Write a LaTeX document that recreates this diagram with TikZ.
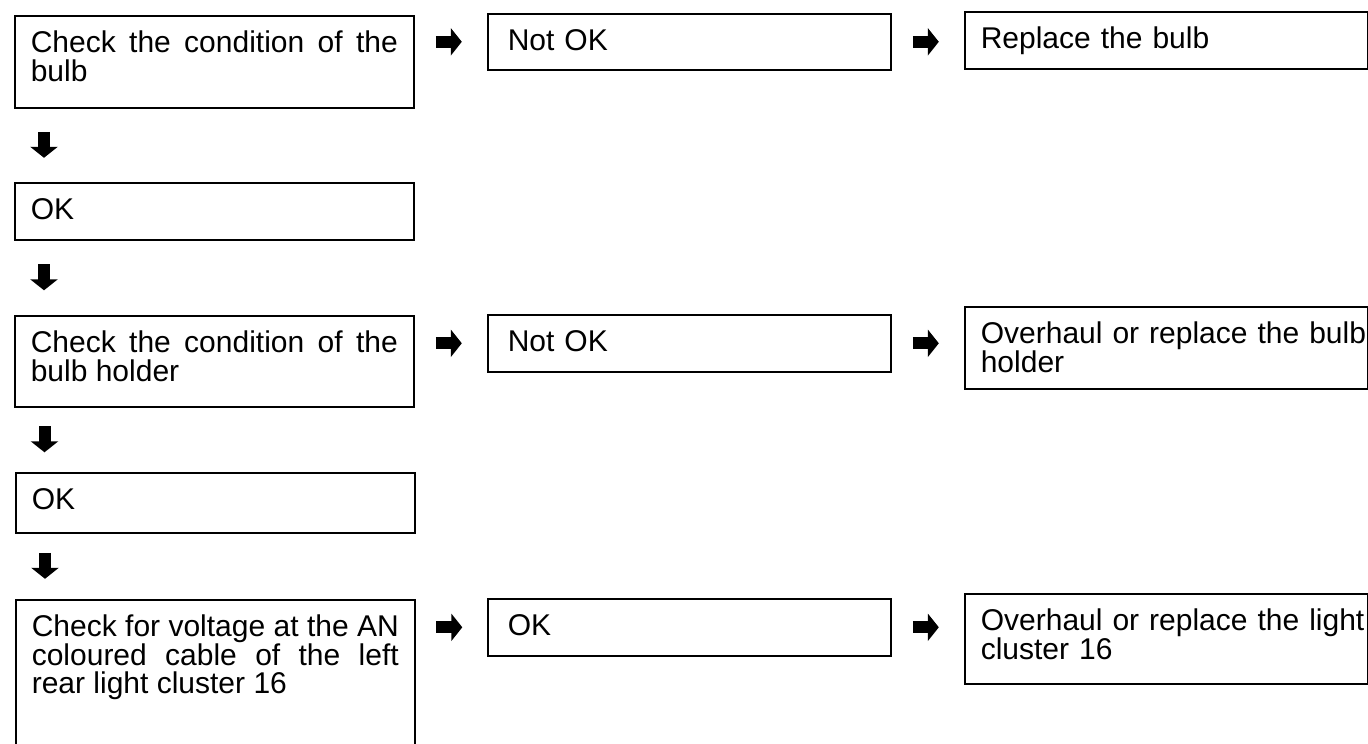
\documentclass[tikz,border=0pt]{standalone}
\usepackage{fontspec}
\setmainfont{Liberation Sans}
\usetikzlibrary{arrows.meta,calc}
\newcommand\boxfont{\fontsize{30}{28.5}\selectfont\tolerance=10000\hyphenpenalty=10000\hbadness=10000\hfuzz=20pt\relax}
\tikzset{
  bx/.style={draw, line width=1.6pt, anchor=north west, inner xsep=16pt, inner ysep=0pt,
    text height=37pt, font=\boxfont, align=justify},
  bxmid/.style={bx, inner xsep=20pt, align=left},
  bxright/.style={bx, align=left},
  barrow/.style={line width=12pt, -{Triangle[length=11pt,width=27pt]}},
}
\newcommand\harr[3]{%
  \path (#1.east |- #3.center) -- coordinate[midway] (m) (#2.west |- #3.center);
  \draw[barrow] ([xshift=-15pt]m) -- ([xshift=11pt]m);}
\newcommand\varr[2]{%
  \path ([xshift=30pt]#1.south west) -- coordinate[midway] (m) ([xshift=30pt]#2.north west);
  \draw[barrow] ([yshift=13.5pt]m) -- ([yshift=-12.5pt]m);}
\begin{document}
\begin{tikzpicture}[x=1pt,y=1pt]
\useasboundingbox (0,0) rectangle (1368,-744);
\clip (0,0) rectangle (1368,-744);
% row 1
\node[bx, text width=367pt, text depth=55pt] (A1) at (14,-15) {Check the condition of the\linebreak bulb};
\node[bxmid, text width=363pt, text depth=19pt] (B1) at (487,-13) {Not OK};
\node[bxright, text width=371pt, text depth=20pt] (C1) at (964,-11) {Replace the bulb};
% OK 1
\node[bx, text width=367pt, text depth=20pt] (OK1) at (14,-182) {OK};
% row 3
\node[bx, text width=367pt, text depth=54pt] (A3) at (14,-315) {Check the condition of the\linebreak bulb holder};
\node[bxmid, text width=363pt, text depth=20pt] (B3) at (487,-314) {Not OK};
\node[bxright, text width=371pt, text depth=45pt] (C3) at (964,-306) {\mbox{Overhaul or replace the bulb}\\holder};
% OK 2
\node[bx, text width=367pt, text depth=23pt] (OK2) at (15,-472) {OK};
% row 5
\node[bx, text width=367pt, text depth=200pt] (A5) at (15,-599) {Check for voltage at the AN\linebreak coloured cable of the left\linebreak rear light cluster 16};
\node[bxmid, text width=363pt, text depth=20pt] (B5) at (487,-598) {OK};
\node[bxright, text width=371pt, text depth=53pt] (C5) at (964,-593) {\mbox{Overhaul or replace the light}\\cluster 16};
% arrows
\harr{A1}{B1}{B1}
\harr{B1}{C1}{B1}
\varr{A1}{OK1}
\varr{OK1}{A3}
\harr{A3}{B3}{B3}
\harr{B3}{C3}{B3}
\varr{A3}{OK2}
\varr{OK2}{A5}
\harr{A5}{B5}{B5}
\harr{B5}{C5}{B5}
\end{tikzpicture}
\end{document}
